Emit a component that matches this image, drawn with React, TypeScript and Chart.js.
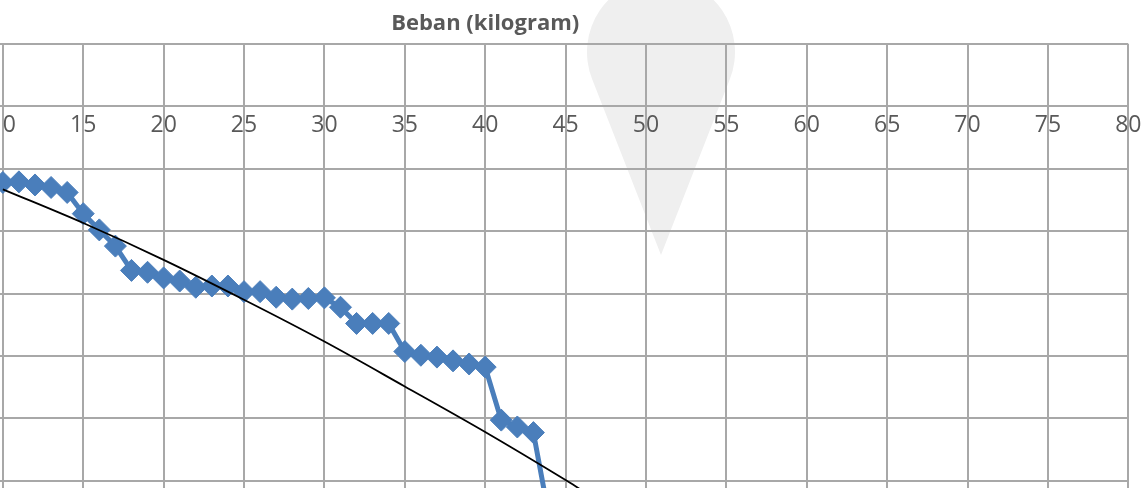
import React, { useEffect, useRef } from "react";
import { Chart, registerables } from "chart.js";

Chart.register(...registerables);

const loadKg = [10, 11, 12, 13, 14, 15, 16, 17, 18, 19, 20, 21, 22, 23, 24, 25, 26, 27, 28, 29, 30, 31, 32, 33, 34, 35, 36, 37, 38, 39, 40, 41, 42, 43, 44];
const measured = [-1.22, -1.21, -1.26, -1.3, -1.38, -1.72, -1.98, -2.24, -2.63, -2.66, -2.75, -2.8, -2.9, -2.88, -2.88, -2.97, -2.97, -3.06, -3.09, -3.08, -3.07, -3.22, -3.48, -3.48, -3.48, -3.93, -3.99, -4.02, -4.08, -4.13, -4.18, -5.03, -5.14, -5.23, -6.62];

// Trend line, read at a few loads
const trendLoad = [10, 15, 20, 25, 30, 35, 40, 45, 46];
const trendValue = [-1.33, -1.87, -2.46, -3.1, -3.77, -4.49, -5.22, -5.99, -6.15];

const axisTitle = "Beban (kilogram)";
const xMin = 0;
const xMax = 80;
const xStep = 5;
const yMin = -7;
const yMax = 1;
const yStep = 1;

const W = 1347;
const H = 560;
const OFF = 170;

const GRID = "#a8a8a8";
const TEXT = "#595959";
const BLUE = "#4a7ebb";

export default function App() {
  const ref = useRef<HTMLCanvasElement | null>(null);

  useEffect(() => {
    if (!ref.current) return;
    const chart = new Chart(ref.current, {
      type: "scatter",
      data: {
        datasets: [
          {
            label: "data",
            data: loadKg.map((x, i) => ({ x, y: measured[i] })),
            showLine: true,
            borderColor: BLUE,
            backgroundColor: BLUE,
            borderWidth: 5,
            pointStyle: "rectRot",
            pointRadius: 11,
            pointBorderWidth: 1,
            pointBorderColor: BLUE,
            pointBackgroundColor: BLUE,
            order: 2,
          },
          {
            label: "trend",
            data: trendLoad.map((x, i) => ({ x, y: trendValue[i] })),
            showLine: true,
            borderColor: "#000000",
            backgroundColor: "#000000",
            borderWidth: 1.8,
            pointRadius: 0,
            cubicInterpolationMode: "monotone",
            order: 1,
          },
        ],
      },
      options: {
        responsive: false,
        animation: false,
        layout: { padding: { left: 10.5, right: 48.7, top: 0, bottom: 17 } },
        plugins: {
          legend: { display: false },
          tooltip: { enabled: false },
          title: {
            display: true,
            text: axisTitle,
            fullSize: false,
            color: TEXT,
            font: { family: "'Open Sans', sans-serif", size: 22, weight: "bold", lineHeight: 1.2 },
            padding: { top: 10.8, bottom: 6.8 },
          },
        },
        scales: {
          x: {
            type: "linear",
            position: { y: 0 },
            min: xMin,
            max: xMax,
            ticks: {
              stepSize: xStep,
              color: TEXT,
              padding: 5.5,
              maxRotation: 0,
              font: { family: "'Open Sans', sans-serif", size: 23 },
            },
            grid: { color: GRID, lineWidth: 2, drawTicks: false },
            border: { display: true, color: GRID, width: 2 },
          },
          y: {
            type: "linear",
            min: yMin,
            max: yMax,
            ticks: { display: false, stepSize: yStep },
            grid: { color: GRID, lineWidth: 2, drawTicks: false },
            border: { display: false },
          },
        },
      },
    });
    return () => chart.destroy();
  }, []);

  return (
    <div
      style={{
        position: "fixed",
        left: 0,
        top: 0,
        width: 1147,
        height: 488,
        overflow: "hidden",
        background: "#ffffff",
      }}
    >
      <svg
        width={1147}
        height={488}
        style={{ position: "absolute", left: 0, top: 0 }}
      >
        <path d="M661 255 L592.1 79 A74 74 0 1 1 729.9 79 Z" fill="#efefef" />
      </svg>
      <canvas
        ref={ref}
        width={W}
        height={H}
        style={{ position: "absolute", left: -OFF, top: 0, width: W, height: H }}
      />
    </div>
  );
}
